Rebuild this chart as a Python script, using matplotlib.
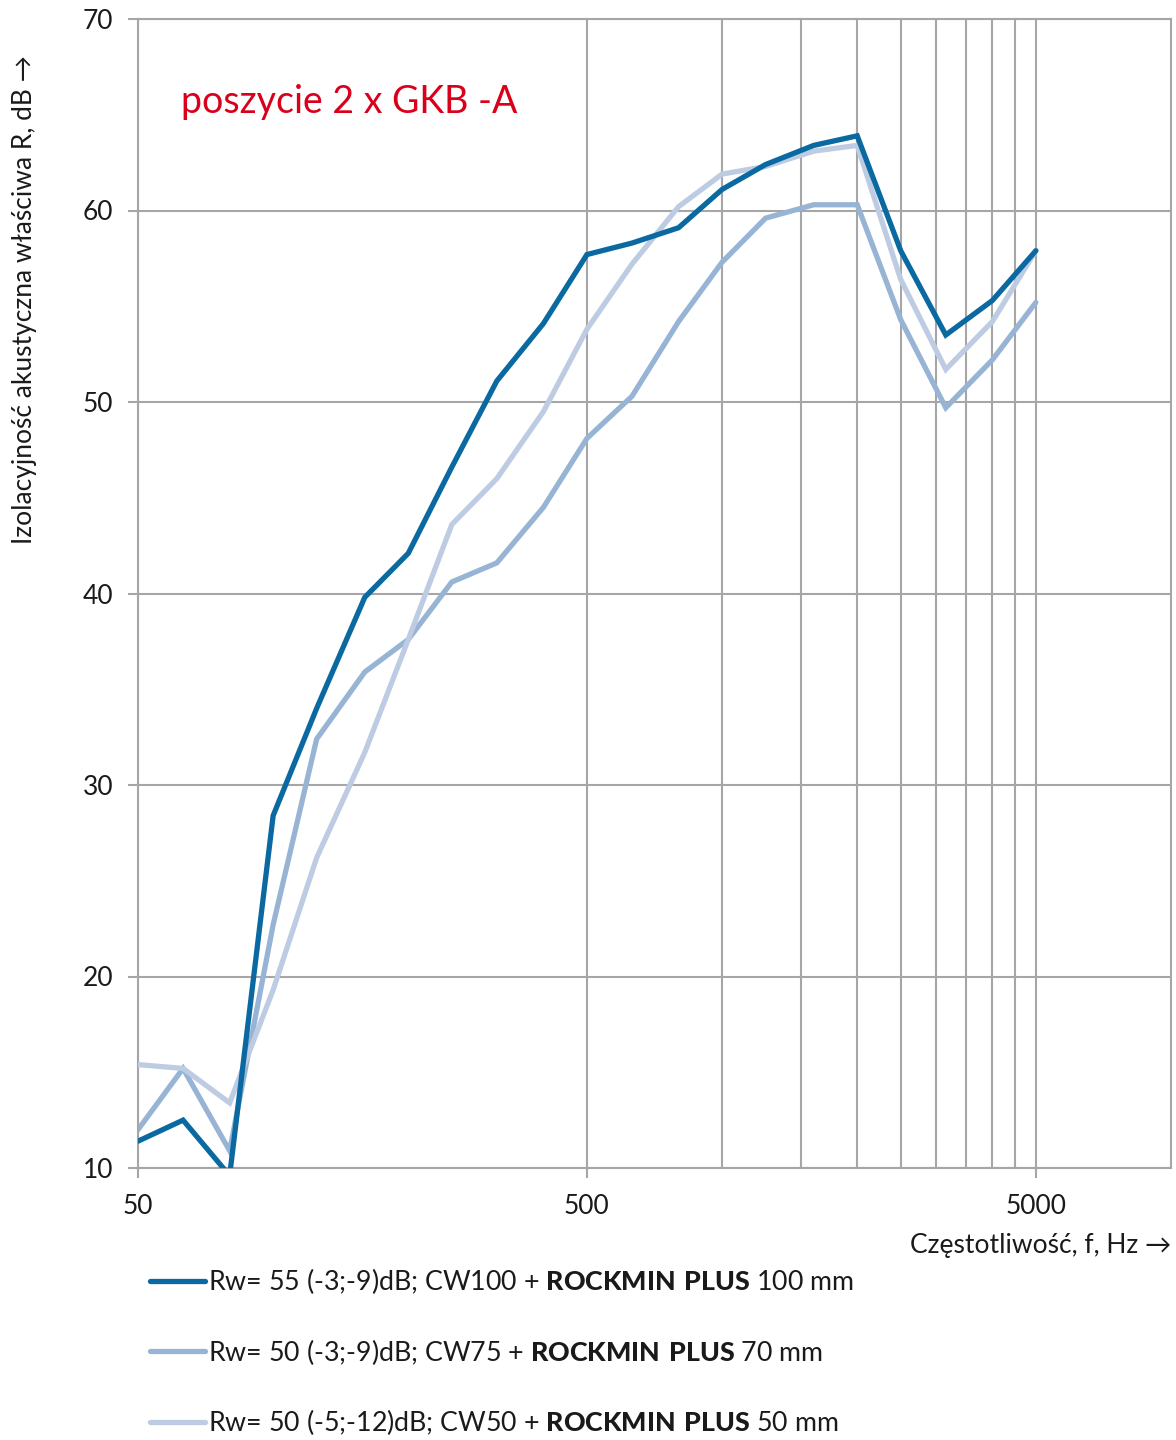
import matplotlib
matplotlib.use("Agg")
import matplotlib.pyplot as plt
from matplotlib.ticker import FixedLocator, FixedFormatter, NullFormatter

plt.rcParams['font.family'] = ['Lato', 'DejaVu Sans']
plt.rcParams['mathtext.fontset'] = 'custom'
plt.rcParams['mathtext.rm'] = 'Lato'
plt.rcParams['mathtext.bf'] = 'Lato:black'

# third-octave band centre frequencies, Hz
freqs = [50, 63, 80, 100, 125, 160, 200, 250, 315, 400, 500, 630, 800,
         1000, 1250, 1600, 2000, 2500, 3150, 4000, 5000]

r_cw100 = [11.4, 12.5, 9.6, 28.4, 34.0, 39.8, 42.1, 46.6, 51.1, 54.1, 57.7,
           58.3, 59.1, 61.1, 62.4, 63.4, 63.9, 57.9, 53.5, 55.3, 57.9]
r_cw75 = [12.0, 15.2, 10.9, 22.7, 32.4, 35.9, 37.6, 40.6, 41.6, 44.5, 48.1,
          50.3, 54.2, 57.3, 59.6, 60.3, 60.3, 54.3, 49.7, 52.2, 55.2]
r_cw50 = [15.4, 15.2, 13.4, 19.3, 26.2, 31.7, 37.6, 43.6, 46.0, 49.5, 53.8,
          57.2, 60.2, 61.9, 62.3, 63.1, 63.4, 56.4, 51.7, 54.2, 57.9]

labels = [
    r"Rw= 55 (-3;-9)dB; CW100 + $\mathbf{ROCKMIN\ PLUS}$ 100 mm",
    r"Rw= 50 (-3;-9)dB; CW75 + $\mathbf{ROCKMIN\ PLUS}$ 70 mm",
    r"Rw= 50 (-5;-12)dB; CW50 + $\mathbf{ROCKMIN\ PLUS}$ 50 mm",
]
colors = ["#0a69a1", "#97b4d5", "#bdcce2"]

x_major = [50, 500, 5000]
x_grid_minor = [1000, 1500, 2000, 2500, 3000, 3500, 4000, 4500]
y_ticks = [10, 20, 30, 40, 50, 60, 70]

fig = plt.figure(figsize=(11.76, 14.4), dpi=100)
ax = fig.add_axes([138 / 1176, 1 - 1168 / 1440, (1171 - 138) / 1176, (1168 - 19) / 1440])

grid_c = "#a6a6a6"
text_c = "#1a1a1a"

lines = []
for series, c, lab, z in zip([r_cw100, r_cw75, r_cw50], colors, labels, [3, 2.5, 2.6]):
    ln, = ax.plot(freqs, series, color=c, lw=3.8, solid_joinstyle='miter',
                  solid_capstyle='round', label=lab, zorder=z)
    lines.append(ln)

ax.set_xscale('log')
ax.set_xlim(50, 10000)
ax.set_ylim(10, 70)
ax.xaxis.set_major_locator(FixedLocator(x_major))
ax.xaxis.set_major_formatter(FixedFormatter([str(v) for v in x_major]))
ax.xaxis.set_minor_locator(FixedLocator(x_grid_minor))
ax.xaxis.set_minor_formatter(NullFormatter())
ax.set_yticks(y_ticks)

ax.grid(True, which='major', axis='y', color=grid_c, lw=1.5)
ax.grid(True, which='both', axis='x', color=grid_c, lw=1.5)
ax.set_axisbelow(True)
for s in ax.spines.values():
    s.set_color(grid_c)
    s.set_linewidth(1.5)

ax.tick_params(axis='both', which='major', length=7, width=1.5, color=grid_c,
               labelsize=19, labelcolor=text_c)
ax.tick_params(axis='x', which='major', pad=12)
ax.tick_params(axis='y', which='major', pad=11)
ax.tick_params(axis='x', which='minor', length=0)

fig.text(181 / 1176, 1 - 102 / 1440, "poszycie 2 x GKB -A",
         color="#d9001b", fontsize=27, va='center', ha='left')

fig.text(1171 / 1176, 1 - 1245 / 1440, "Częstotliwość, f, Hz →", ha='right',
         va='center', fontsize=19, color=text_c)
fig.text(25 / 1176, 1 - 55 / 1440, "Izolacyjność akustyczna właściwa R, dB →",
         rotation=90, ha='center', va='top', fontsize=19, color=text_c)

leg = fig.legend(handles=lines, loc='upper left',
                 bbox_to_anchor=(150 / 1176, 1 - 1266 / 1440), frameon=False,
                 fontsize=19.3, handlelength=2.05, handletextpad=0.12,
                 labelspacing=1.52, borderpad=0, borderaxespad=0)
for t in leg.get_texts():
    t.set_color(text_c)

fig.savefig("out.png", dpi=100)
